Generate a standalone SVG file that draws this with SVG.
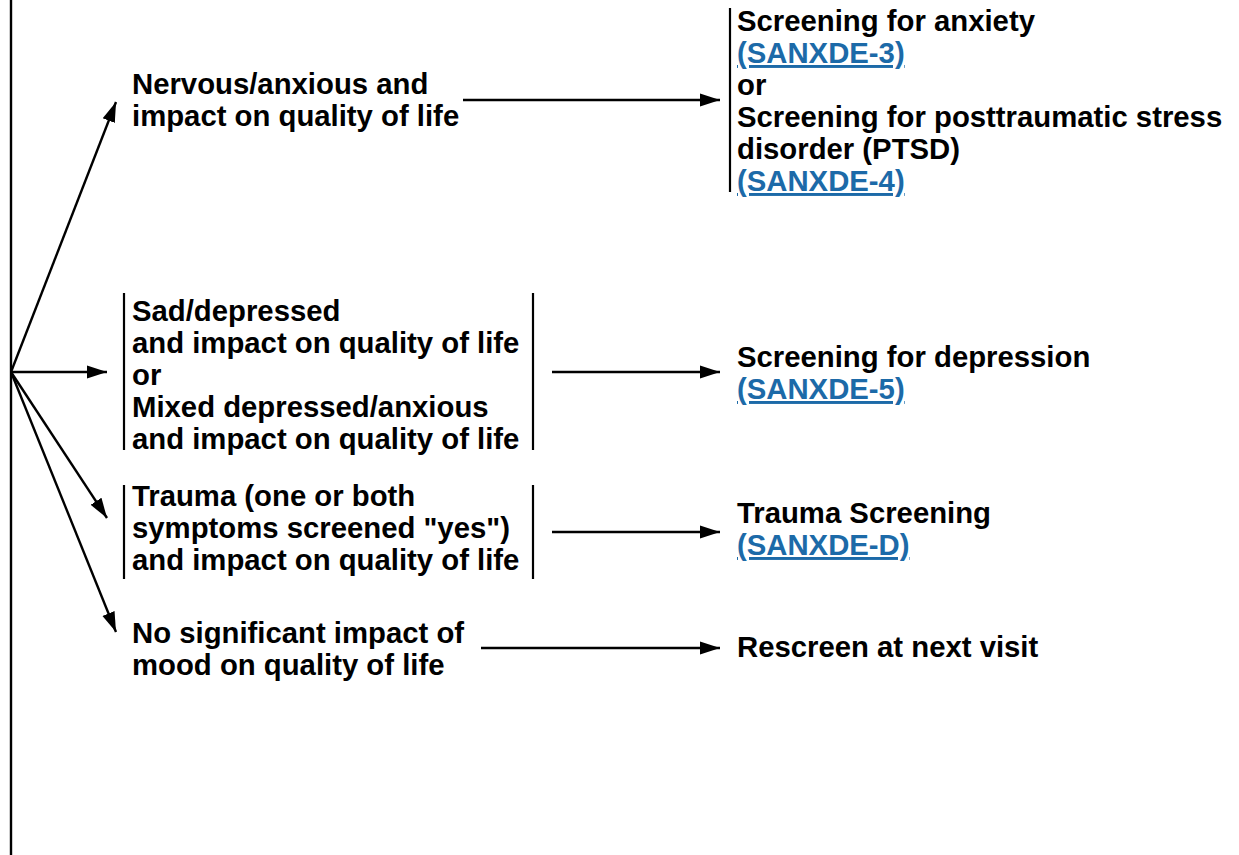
<svg xmlns="http://www.w3.org/2000/svg" width="1239" height="855" viewBox="0 0 1239 855">
<defs>
<marker id="ah" markerUnits="userSpaceOnUse" markerWidth="21" markerHeight="14" refX="20" refY="7" orient="auto">
<path d="M0,0.5 L20,7 L0,13.5 z" fill="#000"/>
</marker>
<style>
text{font-family:"Liberation Sans",Arial,sans-serif;font-weight:bold;font-size:29.3px;fill:#000}
.lk{fill:#1c6aa8;text-decoration:underline}
.c{stroke:#000;stroke-width:2.4;fill:none}
.cw{stroke:#000;stroke-width:2.4;fill:none;marker-end:url(#ah)}
.bar{stroke:#000;stroke-width:2.2}
</style>
</defs>
<rect width="1239" height="855" fill="#fff"/>
<g id="connectors">
<line class="c" x1="11" y1="0" x2="11" y2="855"/>
<line class="cw" x1="11" y1="372" x2="116" y2="102"/>
<line class="cw" x1="11" y1="372" x2="107" y2="372"/>
<line class="cw" x1="11" y1="372" x2="107" y2="518"/>
<line class="cw" x1="11" y1="372" x2="116" y2="632"/>
<line class="cw" x1="463" y1="100" x2="720" y2="100"/>
<line class="cw" x1="552" y1="372" x2="720" y2="372"/>
<line class="cw" x1="552" y1="532" x2="720" y2="532"/>
<line class="cw" x1="481" y1="648" x2="720" y2="648"/>
</g>
<g id="n-nervous">
<text x="132" y="94">Nervous/anxious and</text>
<text x="132" y="126">impact on quality of life</text>
</g>
<g id="n-sad">
<line class="bar" x1="124" y1="293" x2="124" y2="450"/>
<line class="bar" x1="533" y1="293" x2="533" y2="450"/>
<text x="132" y="321">Sad/depressed</text>
<text x="132" y="353">and impact on quality of life</text>
<text x="132" y="385">or</text>
<text x="132" y="417">Mixed depressed/anxious</text>
<text x="132" y="449">and impact on quality of life</text>
</g>
<g id="n-trauma">
<line class="bar" x1="124" y1="485" x2="124" y2="579"/>
<line class="bar" x1="533" y1="485" x2="533" y2="579"/>
<text x="132" y="506">Trauma (one or both</text>
<text x="132" y="538">symptoms screened "yes")</text>
<text x="132" y="570">and impact on quality of life</text>
</g>
<g id="n-nosig">
<text x="132" y="643">No significant impact of</text>
<text x="132" y="675">mood on quality of life</text>
</g>
<g id="r-anxiety">
<line class="bar" x1="730" y1="8" x2="730" y2="192"/>
<text x="737" y="31">Screening for anxiety</text>
<text x="737" y="63" class="lk">(SANXDE-3)</text>
<text x="737" y="95">or</text>
<text x="737" y="127">Screening for posttraumatic stress</text>
<text x="737" y="159">disorder (PTSD)</text>
<text x="737" y="191" class="lk">(SANXDE-4)</text>
</g>
<g id="r-depression">
<text x="737" y="367">Screening for depression</text>
<text x="737" y="399" class="lk">(SANXDE-5)</text>
</g>
<g id="r-trauma">
<text x="737" y="523">Trauma Screening</text>
<text x="737" y="555" class="lk">(SANXDE-D)</text>
</g>
<g id="r-rescreen">
<text x="737" y="657">Rescreen at next visit</text>
</g>
</svg>
